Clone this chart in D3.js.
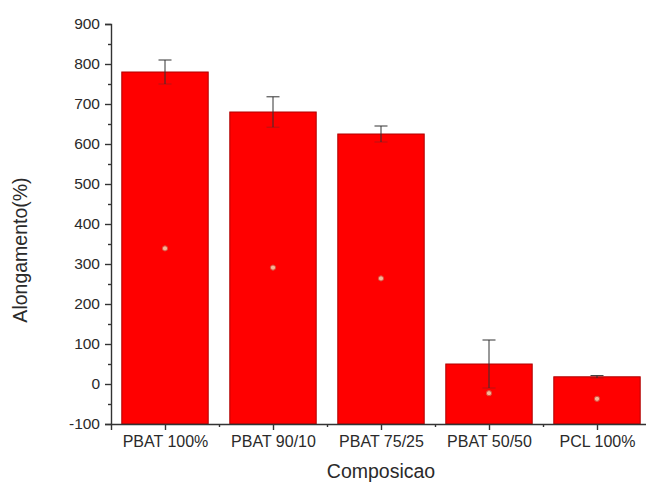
<!DOCTYPE html>
<html>
<head>
<meta charset="utf-8">
<script src="https://cdn.jsdelivr.net/npm/d3@7"></script>
<style>
  html, body { margin: 0; padding: 0; background: #fff; }
  svg { display: block; }
  text { font-family: "Liberation Sans", Arial, sans-serif; fill: #2a2a2a; }
</style>
</head>
<body>
<div id="chart"></div>
<script>
// Elongation at break for each composition
const categories = ["PBAT 100%", "PBAT 90/10", "PBAT 75/25", "PBAT 50/50", "PCL 100%"];
const means      = [780, 680, 625, 50, 18];
const errors     = [30, 38, 20, 60, 3];
const markers    = [339, 291, 264, -23, -37];
const yMajorTicks = [-100, 0, 100, 200, 300, 400, 500, 600, 700, 800, 900];
const yMinorTicks = [-50, 50, 150, 250, 350, 450, 550, 650, 750, 850];
const xMinorTicks = [1.5, 2.5, 3.5, 4.5];

const W = 646, H = 484;
const svg = d3.select("#chart").append("svg")
  .attr("width", W).attr("height", H);

const x = d3.scaleLinear().domain([0.5, 5.5]).range([111, 651]);
const y = d3.scaleLinear().domain([-100, 900]).range([424, 24]);
const halfBar = (x(1.4) - x(0.6)) / 2;

// bars rise from the bottom of the axis range
const bars = svg.append("g");
bars.selectAll("rect").data(means).join("rect")
  .attr("x", (d, i) => x(i + 1) - halfBar)
  .attr("width", halfBar * 2)
  .attr("y", d => y(d))
  .attr("height", d => y(-100) - y(d))
  .attr("fill", "#ff0000")
  .attr("stroke", "#b00000")
  .attr("stroke-width", 1);

// error bars
const eb = svg.append("g").attr("stroke", "#333").attr("stroke-width", 1);
means.forEach((m, i) => {
  const cx = x(i + 1), cap = 6.5;
  eb.append("line").attr("x1", cx).attr("x2", cx).attr("y1", y(m + errors[i])).attr("y2", y(m - errors[i]));
  eb.append("line").attr("x1", cx - cap).attr("x2", cx + cap).attr("y1", y(m + errors[i])).attr("y2", y(m + errors[i]));
  eb.append("line").attr("x1", cx - cap).attr("x2", cx + cap).attr("y1", y(m - errors[i])).attr("y2", y(m - errors[i]))
    .attr("stroke-opacity", 0.35);
});

// small point markers inside the bars
svg.append("g").selectAll("circle").data(markers).join("circle")
  .attr("cx", (d, i) => x(i + 1))
  .attr("cy", d => y(d))
  .attr("r", 2.6)
  .attr("fill", "#f6b496")
  .attr("stroke", "#d84a3a")
  .attr("stroke-width", 1);

// plain hyphen for negative tick values
const fmt = d => String(d);

// Y axis
const yAxis = svg.append("g").attr("transform", `translate(${x(0.5)},0)`)
  .call(d3.axisLeft(y).tickValues(yMajorTicks).tickSize(6).tickPadding(5).tickFormat(fmt));
svg.append("g").attr("transform", `translate(${x(0.5)},0)`)
  .call(d3.axisLeft(y).tickValues(yMinorTicks).tickSize(3).tickFormat(""))
  .select(".domain").remove();
yAxis.selectAll("text").attr("font-size", 15.5);

// X axis
const xAxis = svg.append("g").attr("transform", `translate(0,${y(-100)})`)
  .call(d3.axisBottom(x).tickValues([1, 2, 3, 4, 5]).tickSize(6).tickPadding(6)
    .tickFormat((d) => categories[d - 1]));
svg.append("g").attr("transform", `translate(0,${y(-100)})`)
  .call(d3.axisBottom(x).tickValues(xMinorTicks).tickSize(3).tickFormat(""))
  .select(".domain").remove();
xAxis.selectAll("text").attr("font-size", 16);

svg.selectAll(".domain, .tick line").attr("stroke", "#333").attr("stroke-width", 1.4);
svg.selectAll(".tick text").style("fill", "#2a2a2a").attr("font-family", "Liberation Sans, Arial, sans-serif");

// axis titles
svg.append("text")
  .attr("x", 381).attr("y", 478)
  .attr("text-anchor", "middle")
  .attr("font-size", 19.5)
  .text("Composicao");

svg.append("text")
  .attr("transform", `translate(27,250) rotate(-90)`)
  .attr("text-anchor", "middle")
  .attr("font-size", 19.5)
  .text("Alongamento(%)");
</script>
</body>
</html>
